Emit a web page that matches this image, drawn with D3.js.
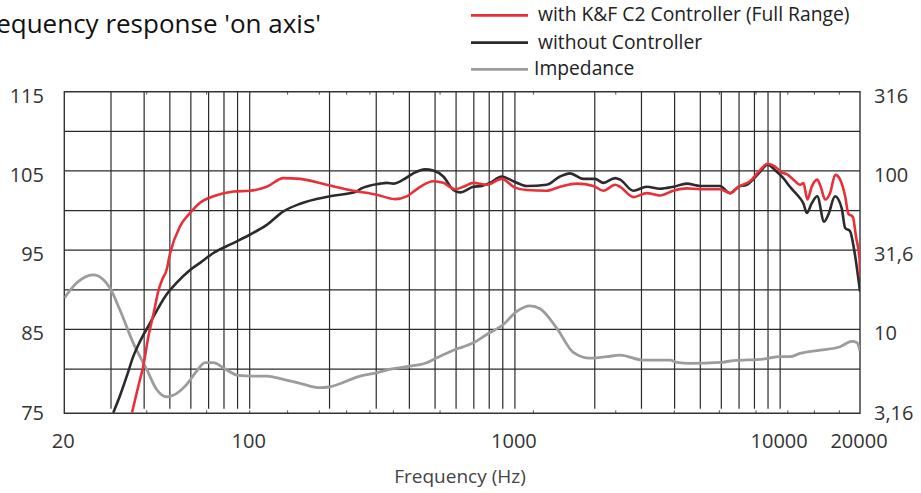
<!DOCTYPE html>
<html>
<head>
<meta charset="utf-8">
<script src="https://cdn.jsdelivr.net/npm/d3@7"></script>
<style>
  html, body { margin: 0; padding: 0; background: #fff; }
  svg text { font-family: "Open Sans", "Noto Sans", sans-serif; }
</style>
</head>
<body>
<svg id="chart" width="921" height="493"></svg>
<script>
var redFreq  = [36, 38, 39.7, 41.5, 43.6, 45.2, 46.8, 48.6, 50.1, 54.6, 59.6, 65, 73, 87, 100, 116, 134, 155, 195, 246, 301, 353, 391, 439, 492, 537, 594, 639, 697, 783, 892, 1000, 1108, 1318, 1479, 1710, 1976, 2156, 2386, 2492, 2796, 3140, 3524, 3954, 4444, 4990, 5930, 6472, 6960, 7700, 8400, 8950, 9570, 10140, 10590, 11220, 11890, 12240, 12670, 13150, 13800, 14220, 14770, 15420, 16140, 16830, 17580, 18080, 18800, 19320, 19930, 20000];
var redDb    = [74.5, 77.8, 80.4, 84.1, 87.3, 89.8, 91.3, 92.5, 94.6, 98.0, 99.7, 101.0, 101.8, 102.4, 102.5, 103.0, 104.1, 104.0, 103.25, 102.5, 102.0, 101.45, 101.8, 103.0, 103.7, 103.5, 102.7, 103.0, 103.5, 103.25, 104.0, 102.9, 102.6, 102.5, 103.0, 103.4, 103.1, 102.5, 103.25, 103.0, 101.7, 102.2, 101.9, 102.5, 102.8, 102.7, 102.7, 102.2, 103.0, 103.7, 105.1, 105.9, 105.55, 104.8, 104.6, 103.9, 103.25, 103.46, 101.4, 103.0, 103.9, 103.0, 101.4, 102.2, 104.5, 103.9, 101.8, 99.6, 99.2, 96.7, 93.8, 91.7];

var blackFreq = [30.6, 32.4, 34.4, 36.4, 38.6, 42.1, 45.2, 48.6, 53.1, 59.6, 65, 73, 86.7, 100, 116, 134, 155, 201, 253, 264, 310, 329, 348, 379, 414, 458, 492, 537, 586, 621, 697, 750, 806, 892, 986, 1108, 1318, 1479, 1614, 1811, 2005, 2156, 2386, 2492, 2796, 3140, 3524, 3954, 4444, 4990, 5930, 6472, 6960, 7480, 8400, 8950, 9712, 10280, 10890, 11720, 12240, 12600, 13150, 13800, 14640, 15200, 16100, 17060, 17580, 18350, 19000, 20000];
var blackDb   = [74.5, 76.6, 79.1, 81.6, 83.5, 85.8, 87.7, 89.4, 90.9, 92.5, 93.4, 94.65, 95.9, 96.95, 98.2, 99.9, 100.86, 101.8, 102.4, 102.8, 103.4, 103.5, 103.4, 103.9, 104.7, 105.2, 105.05, 104.3, 102.6, 102.3, 103.0, 103.1, 103.5, 104.3, 103.7, 103.1, 103.25, 104.3, 104.7, 104.0, 104.0, 103.5, 104.1, 103.9, 102.5, 103.0, 102.75, 103.0, 103.4, 103.1, 103.1, 102.2, 103.0, 103.25, 104.9, 105.8, 104.9, 104.1, 103.0, 101.8, 100.9, 99.7, 100.9, 101.8, 98.6, 99.5, 101.8, 100.3, 97.8, 97.4, 95.1, 89.8];

var impFreq = [20, 22.3, 25.7, 28.1, 29.7, 32.4, 36.4, 40.9, 44.6, 48.6, 51.5, 57.9, 63.1, 67.9, 73, 79.5, 90.6, 103, 116, 134, 155, 184, 201, 261, 301, 348, 402, 465, 507, 586, 697, 783, 904, 1016, 1140, 1244, 1438, 1660, 1918, 2218, 2492, 3048, 3846, 4074, 4572, 5930, 6660, 8640, 10000, 10890, 11890, 14140, 16830, 18620, 19450, 20000];
var impOhm  = [15.8, 19.7, 22.1, 20.6, 18.3, 13.3, 8.2, 5.6, 4.18, 3.76, 3.84, 4.5, 5.46, 6.17, 6.17, 5.73, 5.13, 5.08, 5.08, 4.84, 4.57, 4.29, 4.35, 5.08, 5.33, 5.65, 5.87, 6.17, 6.62, 7.4, 8.23, 9.29, 10.74, 13.0, 14.1, 13.5, 10.2, 7.17, 6.59, 6.73, 6.89, 6.4, 6.4, 6.19, 6.1, 6.19, 6.35, 6.5, 6.73, 6.73, 7.06, 7.4, 7.78, 8.4, 8.28, 7.33];

// axes / ticks
var xTickVals   = [20, 100, 1000, 10000, 20000];
var xTickLabels = ['20', '100', '1000', '10000', '20000'];
var gridFreqs   = [30, 40, 50, 60, 70, 80, 90, 100, 200, 300, 400, 500, 600, 700, 800, 900, 1000,
                   2000, 3000, 4000, 5000, 6000, 7000, 8000, 9000, 10000];
var minorFreqs  = [40.9, 68.8, 100, 139, 183, 232, 284, 348, 522, 1174, 2400, 3990, 5900, 8110, 10690, 13460, 16720];
var dbGrid      = [80, 85, 90, 95, 100, 105, 110];
var dbTicks     = [115, 105, 95, 85, 75];
var ohmTicks    = [316.2, 100, 31.62, 10, 3.162];
var ohmLabels   = ['316', '100', '31,6', '10', '3,16'];

var seriesNames = ['with K&F C2 Controller (Full Range)', 'without Controller', 'Impedance'];
var seriesColors = ['#e8303a', '#2b2b2b', '#9c9c9f'];

var svg = d3.select('#chart');
// (don't call it "top": window.top is read-only)
var pLeft = 64.3, pRight = 860, pTop = 91.7, gridBottom = 408.7, frameBottom = 413.3;

var x = d3.scaleLog().domain([20, 20000]).range([pLeft, pRight]);
var y = d3.scaleLinear().domain([75, 115]).range([gridBottom, pTop]);
// impedance: 3,16 .. 316 ohm on the same height (20*log10 Z + 65)
var yZ = d3.scaleLog().domain([3.162, 316.2]).range([gridBottom, pTop]);

svg.append('defs').append('clipPath').attr('id', 'plotclip')
  .append('rect')
  .attr('x', pLeft).attr('y', pTop)
  .attr('width', pRight - pLeft).attr('height', frameBottom - pTop);

// grid
var grid = svg.append('g').attr('class', 'grid');
grid.selectAll('line.v')
  .data(gridFreqs)
  .enter().append('line')
  .attr('class', 'v')
  .attr('x1', function (d) { return x(d); })
  .attr('x2', function (d) { return x(d); })
  .attr('y1', pTop).attr('y2', gridBottom)
  .style('stroke', '#2a2a2a').style('stroke-width', 1.2);

grid.selectAll('line.h')
  .data(dbGrid)
  .enter().append('line')
  .attr('class', 'h')
  .attr('x1', pLeft).attr('x2', pRight)
  .attr('y1', function (d) { return y(d); })
  .attr('y2', function (d) { return y(d); })
  .style('stroke', '#2a2a2a').style('stroke-width', 1.2);

// minor ticks on top and bottom frame
grid.selectAll('line.mb')
  .data(minorFreqs)
  .enter().append('line')
  .attr('class', 'mb')
  .attr('x1', function (d) { return x(d); })
  .attr('x2', function (d) { return x(d); })
  .attr('y1', frameBottom - 3).attr('y2', frameBottom)
  .style('stroke', '#555').style('stroke-width', 1);
grid.selectAll('line.mt')
  .data(minorFreqs)
  .enter().append('line')
  .attr('class', 'mt')
  .attr('x1', function (d) { return x(d); })
  .attr('x2', function (d) { return x(d); })
  .attr('y1', pTop).attr('y2', pTop + 3)
  .style('stroke', '#555').style('stroke-width', 1);

// frame
svg.append('path')
  .attr('d', 'M' + pLeft + ',' + frameBottom + 'V' + pTop + 'H' + pRight + 'V' + frameBottom + 'Z')
  .style('fill', 'none').style('stroke', '#333').style('stroke-width', 1.4);

// curves
var plot = svg.append('g').attr('clip-path', 'url(#plotclip)');

var dbLine = d3.line()
  .x(function (d) { return x(d[0]); })
  .y(function (d) { return y(d[1]); })
  .curve(d3.curveMonotoneX);
var zLine = d3.line()
  .x(function (d) { return x(d[0]); })
  .y(function (d) { return yZ(d[1]); })
  .curve(d3.curveMonotoneX);

plot.append('path')
  .datum(d3.zip(impFreq, impOhm))
  .attr('d', zLine)
  .style('fill', 'none').style('stroke', seriesColors[2]).style('stroke-width', 2.8);

plot.append('path')
  .datum(d3.zip(blackFreq, blackDb))
  .attr('d', dbLine)
  .style('fill', 'none').style('stroke', seriesColors[1]).style('stroke-width', 2.6);

plot.append('path')
  .datum(d3.zip(redFreq, redDb))
  .attr('d', dbLine)
  .style('fill', 'none').style('stroke', seriesColors[0]).style('stroke-width', 2.6);

// tick labels
svg.append('g').selectAll('text')
  .data(dbTicks)
  .enter().append('text')
  .attr('x', 44).attr('y', function (d) { return y(d) + 4; })
  .attr('dy', '0.35em')
  .attr('text-anchor', 'end')
  .style('font-size', '20px').style('fill', '#333')
  .text(function (d) { return d; });

svg.append('g').selectAll('text')
  .data(ohmTicks)
  .enter().append('text')
  .attr('x', 874).attr('y', function (d) { return yZ(d) + 4; })
  .attr('dy', '0.35em')
  .style('font-size', '20px').style('fill', '#333')
  .text(function (d, i) { return ohmLabels[i]; });

svg.append('g').selectAll('text')
  .data(xTickVals)
  .enter().append('text')
  .attr('x', function (d) { return x(d) - 1; })
  .attr('y', 448)
  .attr('text-anchor', 'middle')
  .style('font-size', '20px').style('fill', '#333')
  .text(function (d, i) { return xTickLabels[i]; });

svg.append('text')
  .attr('x', 460).attr('y', 483)
  .attr('text-anchor', 'middle')
  .style('font-size', '19px').style('fill', '#444')
  .text('Frequency (Hz)');

// title (cut off at the left edge like the source)
svg.append('text')
  .attr('x', 321).attr('y', 33)
  .attr('text-anchor', 'end')
  .style('font-size', '26px').style('fill', '#111')
  .text("Frequency response 'on axis'");

// legend
var legend = svg.append('g').selectAll('g')
  .data(seriesNames)
  .enter().append('g')
  .attr('transform', function (d, i) { return 'translate(0,' + [15.3, 42.7, 69.3][i] + ')'; });
legend.append('line')
  .attr('x1', 471).attr('x2', 528)
  .style('stroke', function (d, i) { return seriesColors[i]; })
  .style('stroke-width', 2.8);
legend.append('text')
  .attr('x', function (d, i) { return i == 2 ? 534 : 538; })
  .attr('y', 6)
  .style('font-size', '19.3px').style('fill', '#222')
  .text(function (d) { return d; });
</script>
</body>
</html>
